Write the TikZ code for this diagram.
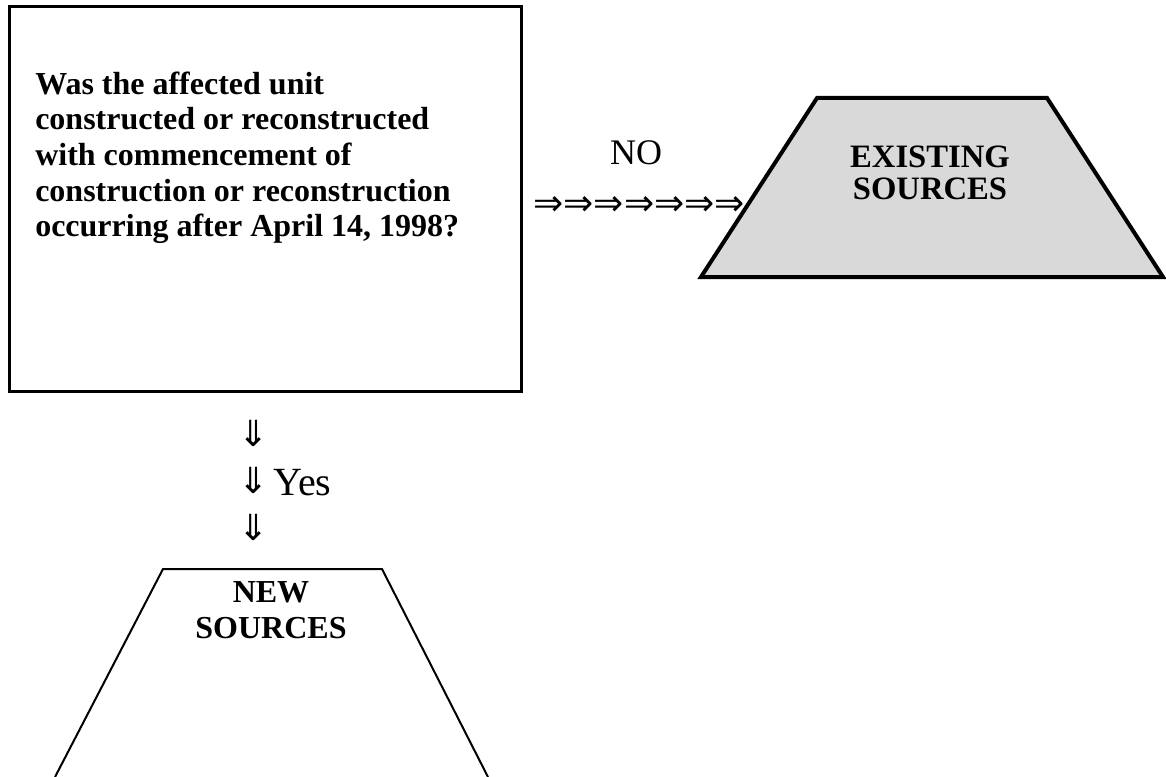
\documentclass[tikz,border=0pt]{standalone}
\usepackage{fontspec}
\setmainfont{Liberation Serif}
\newfontfamily\arrowfont{DejaVu Sans}

\begin{document}
\begin{tikzpicture}[x=0.75pt, y=-0.75pt,
        boldtext/.style={font=\fontsize{24}{27}\selectfont\bfseries, inner sep=0pt, align=center},
        plaintext/.style={font=\fontsize{27}{30}\selectfont, inner sep=0pt},
        arrowtext/.style={font=\fontsize{27}{30}\arrowfont, inner sep=0pt}]
    \useasboundingbox (0,0) rectangle (1166,777);
    % Question box
    \draw[line width=2.25pt] (9,7) rectangle (521,391);
    \node[boldtext, align=left, font=\fontsize{24}{26.8}\selectfont\bfseries, anchor=base west] (question) at (35,237)
        {Was the affected unit\\constructed or reconstructed\\with commencement of\\construction or reconstruction\\occurring after April 14, 1998?};

    % Existing sources
    \draw[line width=3pt, fill=black!15] (701,277) -- (817,98) -- (1047,98) -- (1163,277) -- cycle;
    \node[boldtext, font=\fontsize{24.5}{24.5}\selectfont\bfseries, anchor=base] (existing) at (930,200) {EXISTING\\SOURCES};

    % No branch
    \node[plaintext, anchor=base] (no) at (636,165) {NO};
    \node[arrowtext, anchor=east] (noarrows) at (745,206) {⇒⇒⇒⇒⇒⇒⇒};

    % Yes branch
    \foreach \y/\n in {433/1, 480/2, 527/3} {
            \node[arrowtext] (down\n) at (254,\y) {⇓};
        }
    \node[plaintext, font=\fontsize{30}{32}\selectfont, anchor=base west] (yes) at (273,495) {Yes};

    % New sources
    \draw[line width=1.5pt] (55,777) -- (163,569) -- (382,569) -- (488,777);
    \node[boldtext, anchor=base] (new) at (271,638) {NEW\\SOURCES};
\end{tikzpicture}
\end{document}
